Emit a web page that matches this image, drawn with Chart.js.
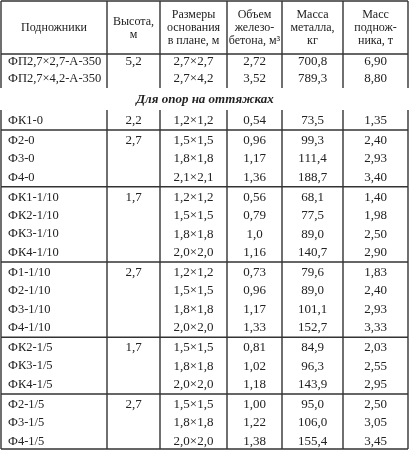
<!DOCTYPE html>
<html>
<head>
<meta charset="utf-8">
<script src="https://cdn.jsdelivr.net/npm/chart.js@4"></script>
<style>
  body { margin: 0; background: #fff; }
  canvas { display: block; }
</style>
</head>
<body>
<canvas id="tableChart" width="410" height="450"></canvas>
<script>
const headers = [
  ["Подножники"],
  ["Высота,", "м"],
  ["Размеры", "основания", "в плане, м"],
  ["Объем", "железо-", "бетона, м³"],
  ["Масса", "металла,", "кг"],
  ["Масс", "поднож-", "ника, т"]
];
const subtitle = "Для опор на оттяжках";

const topNames = ["ФП2,7×2,7-А-350", "ФП2,7×4,2-А-350"];
const topHeights = ["5,2", ""];
const topSizes = ["2,7×2,7", "2,7×4,2"];
const topVolumes = ["2,72", "3,52"];
const topMetal = ["700,8", "789,3"];
const topMass = ["6,90", "8,80"];

// groups of rows separated by horizontal lines
const groupNames = [
  ["ФК1-0"],
  ["Ф2-0", "Ф3-0", "Ф4-0"],
  ["ФК1-1/10", "ФК2-1/10", "ФК3-1/10", "ФК4-1/10"],
  ["Ф1-1/10", "Ф2-1/10", "Ф3-1/10", "Ф4-1/10"],
  ["ФК2-1/5", "ФК3-1/5", "ФК4-1/5"],
  ["Ф2-1/5", "Ф3-1/5", "Ф4-1/5"]
];
const groupHeights = ["2,2", "2,7", "1,7", "2,7", "1,7", "2,7"];
const groupSizes = [
  ["1,2×1,2"],
  ["1,5×1,5", "1,8×1,8", "2,1×2,1"],
  ["1,2×1,2", "1,5×1,5", "1,8×1,8", "2,0×2,0"],
  ["1,2×1,2", "1,5×1,5", "1,8×1,8", "2,0×2,0"],
  ["1,5×1,5", "1,8×1,8", "2,0×2,0"],
  ["1,5×1,5", "1,8×1,8", "2,0×2,0"]
];
const groupVolumes = [
  ["0,54"],
  ["0,96", "1,17", "1,36"],
  ["0,56", "0,79", "1,0", "1,16"],
  ["0,73", "0,96", "1,17", "1,33"],
  ["0,81", "1,02", "1,18"],
  ["1,00", "1,22", "1,38"]
];
const groupMetal = [
  ["73,5"],
  ["99,3", "111,4", "188,7"],
  ["68,1", "77,5", "89,0", "140,7"],
  ["79,6", "89,0", "101,1", "152,7"],
  ["84,9", "96,3", "143,9"],
  ["95,0", "106,0", "155,4"]
];
const groupMass = [
  ["1,35"],
  ["2,40", "2,93", "3,40"],
  ["1,40", "1,98", "2,50", "2,90"],
  ["1,83", "2,40", "2,93", "3,33"],
  ["2,03", "2,55", "2,95"],
  ["2,50", "3,05", "3,45"]
];

const colX = [1, 107, 160, 227, 282, 343, 408];

const tablePlugin = {
  id: "table",
  afterDraw(chart) {
    const c = chart.ctx;
    c.save();
    c.fillStyle = "#fff";
    c.fillRect(0, 0, 410, 450);
    c.strokeStyle = "#333";
    c.fillStyle = "#222";
    c.lineWidth = 1.4;
    c.textBaseline = "middle";

    function hline(y) { c.beginPath(); c.moveTo(colX[0], y); c.lineTo(colX[6], y); c.stroke(); }
    function vlines(y0, y1) {
      colX.forEach(x => { c.beginPath(); c.moveTo(x, y0); c.lineTo(x, y1); c.stroke(); });
    }
    function cells(y, vals) {
      vals.forEach((v, i) => {
        if (i === 0) {
          c.font = "12.5px 'Liberation Serif', serif";
          c.textAlign = "left"; c.fillText(v, colX[0] + 7, y);
        } else {
          c.font = "13px 'Liberation Serif', serif";
          c.textAlign = "center"; c.fillText(v, (colX[i] + colX[i + 1]) / 2, y);
        }
      });
    }

    // header
    hline(1);
    hline(54);
    vlines(1, 54);
    c.font = "12px 'Liberation Serif', serif";
    c.textAlign = "center";
    headers.forEach((lines, i) => {
      const cx = (colX[i] + colX[i + 1]) / 2;
      const start = 28 - (lines.length - 1) * 6.5;
      lines.forEach((t, k) => c.fillText(t, cx, start + k * 13));
    });

    // top rows
    vlines(54, 88);
    topNames.forEach((n, r) => {
      cells(62 + r * 17, [n, topHeights[r], topSizes[r], topVolumes[r], topMetal[r], topMass[r]]);
    });

    // subtitle
    c.font = "italic bold 13px 'Liberation Serif', serif";
    c.textAlign = "center";
    c.fillText(subtitle, 205, 100);

    // groups
    let top = 110;
    const pitch = 18.4;
    groupNames.forEach((names, g) => {
      const bottom = top + 20 + (names.length - 1) * pitch;
      vlines(top, Math.min(bottom, 449));
      names.forEach((n, r) => {
        cells(top + 10.5 + r * pitch, [n, r === 0 ? groupHeights[g] : "", groupSizes[g][r],
          groupVolumes[g][r], groupMetal[g][r], groupMass[g][r]]);
      });
      hline(Math.min(bottom, 449));
      top = bottom;
    });
    c.restore();
  }
};

new Chart(document.getElementById("tableChart").getContext("2d"), {
  type: "bar",
  data: { labels: [], datasets: [] },
  options: {
    responsive: false,
    animation: false,
    plugins: { legend: { display: false }, tooltip: { enabled: false } },
    scales: { x: { display: false }, y: { display: false } }
  },
  plugins: [tablePlugin]
});
</script>
</body>
</html>
